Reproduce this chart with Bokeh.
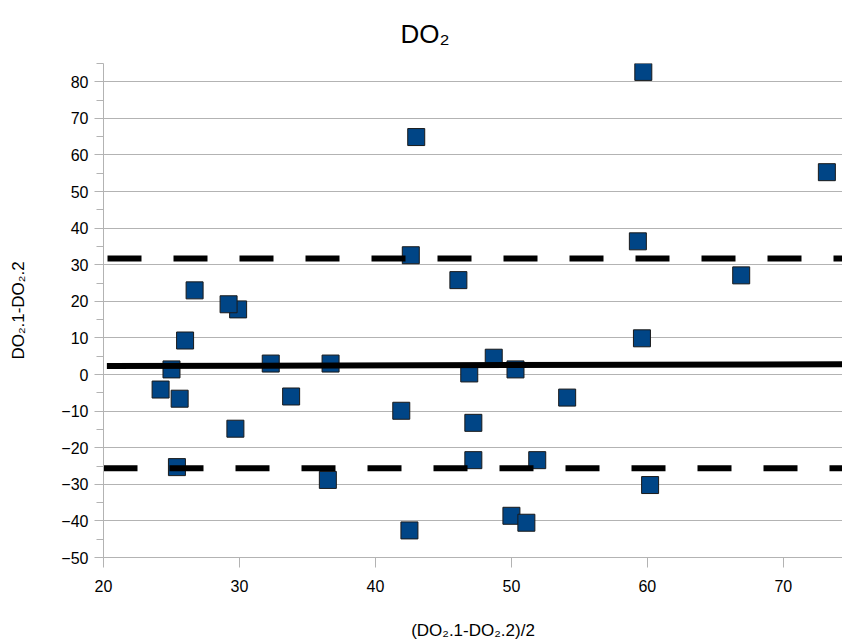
from bokeh.plotting import figure
from bokeh.models import Range1d, SingleIntervalTicker, FixedTicker, ColumnDataSource
from bokeh.embed import file_html
from bokeh.resources import INLINE

# ---- data ----
mean_x = [59.7, 43.0, 73.2, 59.3, 42.6, 46.1, 66.9, 26.7, 29.9, 29.2, 26.0, 59.6,
          32.3, 36.7, 48.7, 25.0, 50.3, 46.9, 24.2, 25.6, 33.8, 54.1, 41.9, 47.2,
          29.7, 51.9, 47.2, 25.4, 36.5, 60.2, 50.0, 51.1, 42.5]
diff_y = [82.7, 64.9, 55.3, 36.4, 32.6, 25.8, 27.1, 23.0, 17.8, 19.2, 9.3, 9.9,
          3.0, 3.0, 4.6, 1.4, 1.4, 0.3, -4.1, -6.6, -6.0, -6.3, -9.9, -13.2,
          -14.8, -23.4, -23.4, -25.3, -28.8, -30.2, -38.6, -40.5, -42.6]

bias_x = [20.25, 74.4]
bias_y = [2.3, 2.8]
upper_loa = 31.7
lower_loa = -25.6
loa_x = [20.0, 74.4]

x_start, x_end = 20, 74.35
y_start, y_end = -50, 85
y_grid_ticks = [-50, -40, -30, -20, -10, 0, 10, 20, 30, 40, 50, 60, 70, 80, 85]

title_text = "DO\u2082"
x_label = "(DO\u2082.1-DO\u2082.2)/2"
y_label = "DO\u2082.1-DO\u2082.2"

FONT = "Liberation Sans"
GRID = "#b3b3b3"
W, H = 842, 644

p = figure(width=W, height=H, output_backend="svg", toolbar_location=None,
           x_range=Range1d(x_start, x_end), y_range=Range1d(y_start, y_end),
           min_border_left=103, min_border_right=0, min_border_top=63,
           min_border_bottom=87, title=title_text)
p.outline_line_color = None
p.background_fill_color = "white"
p.border_fill_color = "white"

p.title.align = "left"
p.title.offset = 297
p.title.vertical_align = "top"
p.title.standoff = 25
p.title.text_font = FONT
p.title.text_font_size = "26px"
p.title.text_font_style = "normal"
p.title.text_color = "black"

# axes
p.xaxis.ticker = SingleIntervalTicker(interval=10, num_minor_ticks=0)
p.yaxis.ticker = SingleIntervalTicker(interval=10, num_minor_ticks=2)
for ax in (p.xaxis[0], p.yaxis[0]):
    ax.axis_line_color = GRID
    ax.major_tick_line_color = GRID
    ax.minor_tick_line_color = GRID
    ax.major_tick_in = 0
    ax.minor_tick_in = 0
    ax.major_label_text_font = FONT
    ax.major_label_text_font_size = "16px"
    ax.major_label_text_color = "black"
    ax.axis_label_text_font = FONT
    ax.axis_label_text_font_size = "17px"
    ax.axis_label_text_font_style = "normal"
    ax.axis_label_text_color = "black"

p.xaxis.major_tick_out = 10
p.xaxis.major_label_standoff = 12
p.xaxis.axis_label = x_label
p.xaxis.axis_label_standoff = 26

p.yaxis.major_tick_out = 9
p.yaxis.minor_tick_out = 7
p.yaxis.major_label_standoff = 6
p.yaxis.axis_label = y_label
p.yaxis.axis_label_standoff = 30

p.xgrid.visible = False
p.ygrid.ticker = FixedTicker(ticks=y_grid_ticks)
p.ygrid.grid_line_color = GRID
p.ygrid.grid_line_width = 1

# points
src = ColumnDataSource(dict(x=mean_x, y=diff_y))
p.scatter("x", "y", source=src, marker="square", size=17,
          fill_color="#004586", line_color="#1a1a1a", line_width=1)

# bias and limits of agreement
p.line(bias_x, bias_y, line_color="black", line_width=6)
p.line(loa_x, [upper_loa, upper_loa], line_color="black", line_width=6,
       line_dash="34 32", line_dash_offset=62)
p.line(loa_x, [lower_loa, lower_loa], line_color="black", line_width=6,
       line_dash="34 32")

open("out.html", "w").write(file_html(p, INLINE))
